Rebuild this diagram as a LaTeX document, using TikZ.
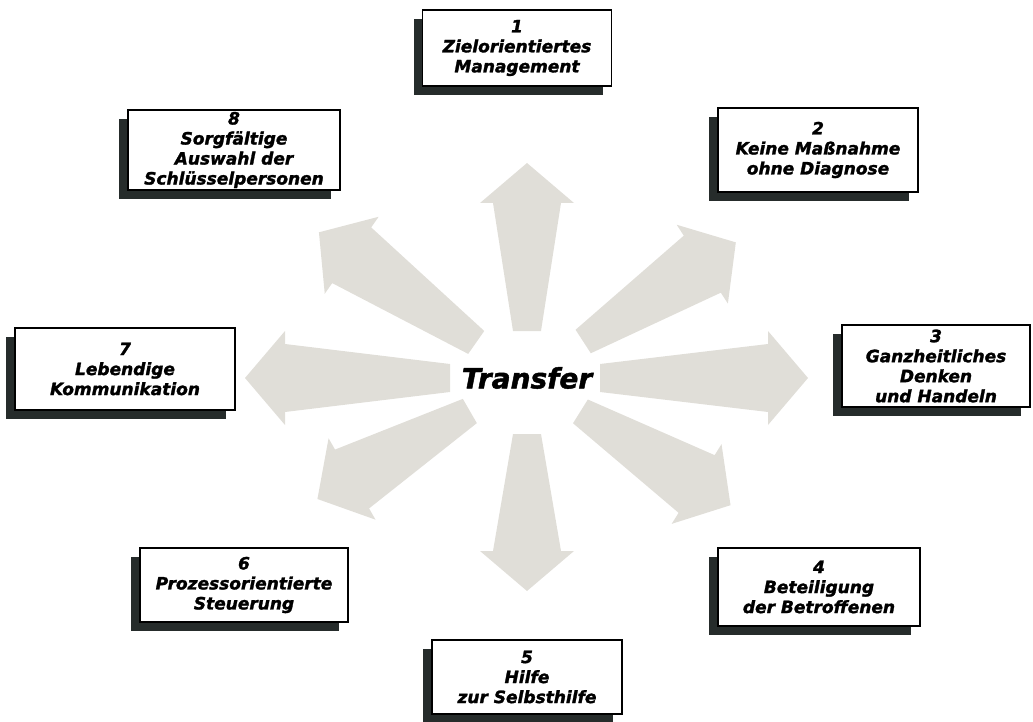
\documentclass[tikz,border=0pt]{standalone}
\usepackage{fontspec}
\setmainfont{DejaVu Sans}[BoldItalicFeatures={FakeBold=1.6}]
\usetikzlibrary{shadows}
\definecolor{arrowgray}{RGB}{224,222,216}
\definecolor{shadowgray}{RGB}{38,44,43}

\begin{document}
\begin{tikzpicture}[x=1pt, y=-1pt,
  field/.style={draw=black, line width=1.2pt, fill=white, align=center, inner sep=0pt,
    minimum height=80pt, minimum width=200pt,
    font=\bfseries\itshape\fontsize{17}{20}\selectfont,
    drop shadow={shadow xshift=-9pt, shadow yshift=-9pt, fill=shadowgray, opacity=1}},
  spoke/.style={fill=arrowgray, draw=none}]
\useasboundingbox (0,0) rectangle (1033,722);
\node[font=\bfseries\itshape\fontsize{28}{30}\selectfont] (transfer) at (527,378) {Transfer};
\foreach \ang/\rin/\rout in {90/47/215, 33/67/249, 0/73/281, -32/63/240,
                             -90/56/213, 210/66/242, 180/77/282, 145/62/254}
  \fill[spoke, shift={(transfer.center)}, rotate=\ang]
    (\rin,-14) -- (\rout-40,-34) -- (\rout-40,-47) -- (\rout,0)
    -- (\rout-40,47) -- (\rout-40,34) -- (\rin,14) -- cycle;
\node[field, minimum width=189pt, minimum height=76pt] (f1) at (517,48) {1\\Zielorientiertes\\Management};
\node[field, minimum width=200pt, minimum height=84pt] (f2) at (818,150) {2\\Keine Maßnahme\\ohne Diagnose};
\node[field, minimum width=188pt, minimum height=82pt] (f3) at (936,366) {3\\Ganzheitliches\\Denken\\und Handeln};
\node[field, minimum width=202pt, minimum height=78pt] (f4) at (819,587) {4\\Beteiligung\\der Betroffenen};
\node[field, minimum width=190pt, minimum height=74pt] (f5) at (527,677) {5\\Hilfe\\zur Selbsthilfe};
\node[field, minimum width=208pt, minimum height=74pt] (f6) at (244,585) {6\\Prozessorientierte\\Steuerung};
\node[field, minimum width=220pt, minimum height=82pt] (f7) at (125,369) {7\\Lebendige\\Kommunikation};
\node[field, minimum width=212pt] (f8) at (234,150) {8\\Sorgfältige\\Auswahl der\\Schlüsselpersonen};
\end{tikzpicture}
\end{document}
